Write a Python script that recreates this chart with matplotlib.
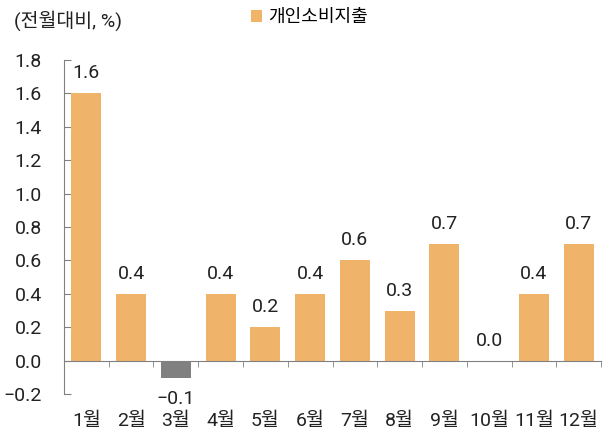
import matplotlib.pyplot as plt

plt.rcParams['font.family'] = ['Roboto', 'Noto Sans CJK KR', 'DejaVu Sans']
plt.rcParams['axes.unicode_minus'] = True

months = ['1월', '2월', '3월', '4월', '5월', '6월', '7월', '8월', '9월', '10월', '11월', '12월']
values = [1.6, 0.4, -0.1, 0.4, 0.2, 0.4, 0.6, 0.3, 0.7, 0.0, 0.4, 0.7]

orange = '#F0B36A'
gray = '#808080'
txtc = '#222222'
fs = 14

fig = plt.figure(figsize=(6.09, 4.32), dpi=100)
ax = fig.add_axes([0.105, 0.087, 0.882, 0.775])

x = range(len(months))
colors = [gray if v < 0 else orange for v in values]
bars = ax.bar(x, values, width=0.67, color=colors, zorder=2, label='개인소비지출')

# value labels
for i, v in enumerate(values):
    txt = f'{v:.1f}'.replace('-', '\u2212')
    if v < 0:
        ax.annotate(txt, (i, v), xytext=(0, -9), textcoords='offset points',
                    ha='center', va='top', fontsize=fs, color=txtc)
    else:
        ax.annotate(txt, (i, v), xytext=(0, 8), textcoords='offset points',
                    ha='center', va='bottom', fontsize=fs, color=txtc)

ax.set_xlim(-0.5, 11.5)
ax.set_ylim(-0.2, 1.8)
ax.set_yticks([-0.2 + 0.2 * k for k in range(11)])
ax.set_yticklabels([f'{-0.2 + 0.2 * k:.1f}'.replace('-', '\u2212') for k in range(11)])

for s in ['top', 'right']:
    ax.spines[s].set_visible(False)
ax.spines['left'].set_color(gray)
ax.spines['bottom'].set_color(gray)
ax.spines['bottom'].set_position(('data', 0))

ax.tick_params(axis='y', direction='in', length=5, color=gray, pad=16,
               labelsize=fs, labelcolor=txtc)
ax.set_xticks(list(x))
ax.set_xticklabels(months)
ax.set_xticks([i + 0.5 for i in range(-1, 12)], minor=True)
ax.tick_params(axis='x', which='major', length=0, pad=37, labelsize=fs,
               labelcolor=txtc)
ax.tick_params(axis='x', which='minor', direction='out', length=4, color=gray)

fig.text(0.023, 0.953, '(전월대비, %)', fontsize=fs, color=txtc, va='center')
fig.legend(handles=[bars], labels=['개인소비지출'], loc='center left',
           bbox_to_anchor=(0.412, 0.96), frameon=False, fontsize=13,
           borderpad=0, borderaxespad=0, handlelength=0.6, handleheight=0.6,
           handletextpad=0.35)

fig.savefig('out.png', dpi=100)
